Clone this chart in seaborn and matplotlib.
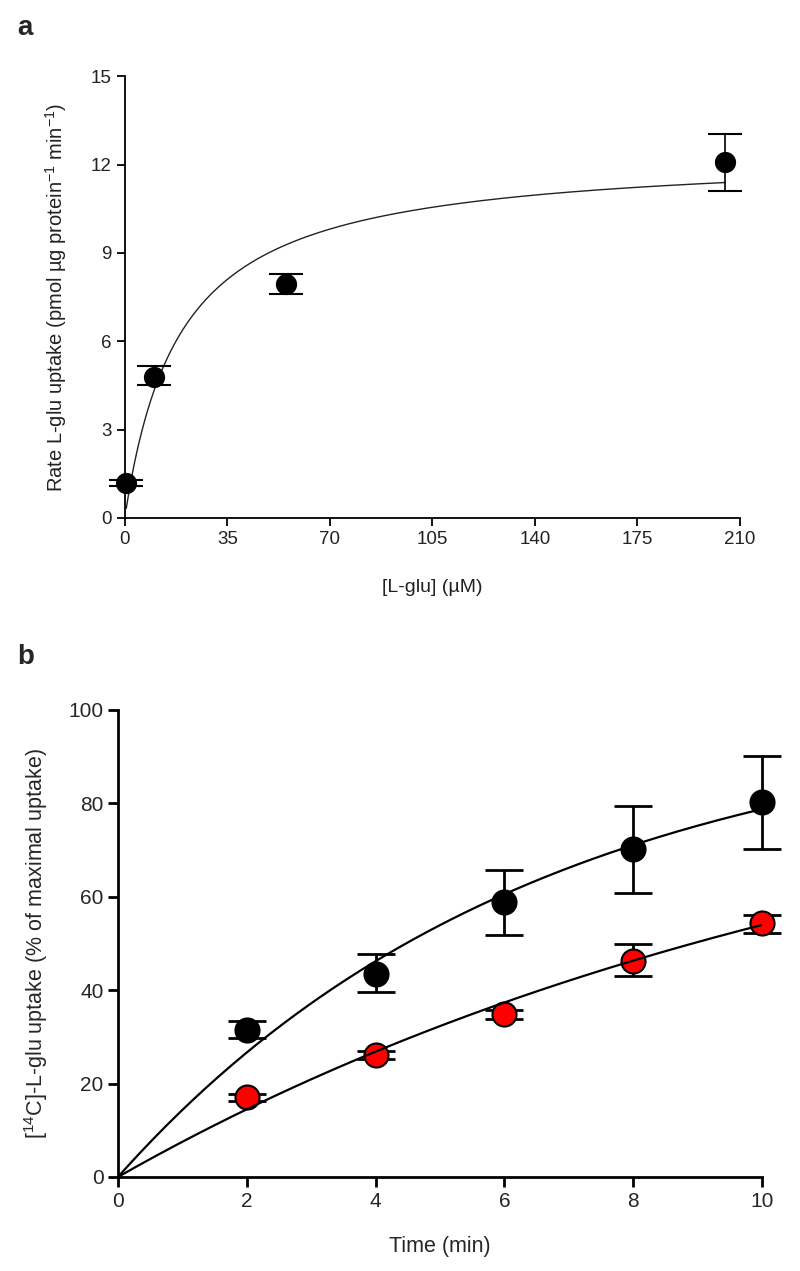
import numpy as np
import pandas as pd
import seaborn as sns
import matplotlib.pyplot as plt

# panel a: rate vs concentration
glu_conc = [0.5, 10, 55, 205]
glu_rate = [1.2, 4.8, 7.95, 12.1]
rate_lo = [1.1, 4.5, 7.6, 11.1]
rate_hi = [1.3, 5.15, 8.3, 13.05]
vmax, km = 12.43, 18.7  # Michaelis-Menten fit

# panel b: time course
time_min = [2, 4, 6, 8, 10]
ctrl_uptake = [31.5, 43.5, 58.8, 70.2, 80.2]
ctrl_lo = [29.7, 39.5, 51.8, 60.9, 70.2]
ctrl_hi = [33.4, 47.7, 65.8, 79.4, 90.1]
red_uptake = [17.1, 26.2, 34.8, 46.3, 54.3]
red_lo = [16.3, 25.2, 33.8, 43.0, 52.3]
red_hi = [17.8, 27.0, 35.8, 49.8, 56.2]
ctrl_fit = (100.0, 0.155)  # A, k for A*(1-exp(-k t))
red_fit = (98.0, 0.08)

sns.set_style('ticks')
plt.rcParams['font.family'] = ['Liberation Sans', 'DejaVu Sans']
plt.rcParams['mathtext.default'] = 'regular'


def unclip(container):
    for art in container.get_children():
        art.set_clip_on(False)


fig = plt.figure(figsize=(8, 12.71), dpi=100)

# ---- a ----
ax1 = fig.add_axes([0.156, 0.5925, 0.769, 0.3475])
xs = np.linspace(0.5, 205, 300)
fit_a = pd.DataFrame({'x': xs, 'y': vmax * xs / (km + xs)})
sns.lineplot(data=fit_a, x='x', y='y', ax=ax1, color='#222222', lw=1.0, zorder=2)
ya = np.array(glu_rate)
eb = ax1.errorbar(glu_conc, ya, yerr=[ya - np.array(rate_lo), np.array(rate_hi) - ya],
                  fmt='none', ecolor='black', elinewidth=1.2, capsize=12, capthick=1.5, zorder=3)
unclip(eb)
sns.scatterplot(x=glu_conc, y=glu_rate, ax=ax1, color='black', s=200, edgecolor='black',
                zorder=4, clip_on=False)
ax1.set_xlim(0, 210)
ax1.set_ylim(0, 15)
ax1.set_xticks([0, 35, 70, 105, 140, 175, 210])
ax1.set_yticks([0, 3, 6, 9, 12, 15])
ax1.tick_params(direction='out', length=6, width=1.3, color='black', labelcolor='#222222',
                labelsize=13.5)
ax1.set_xlabel('[L-glu] (\u00b5M)', fontsize=14, labelpad=22, color='#222222')
ax1.set_ylabel('Rate L-glu uptake (pmol \u00b5g protein$^{-1}$ min$^{-1}$)', fontsize=14.5,
               labelpad=16, color='#222222')
sns.despine(ax=ax1)
for s in ['left', 'bottom']:
    ax1.spines[s].set_linewidth(1.3)
    ax1.spines[s].set_color('black')
fig.text(0.022, 0.978, 'a', fontsize=20, fontweight='bold', va='center')

# ---- b ----
ax2 = fig.add_axes([0.1475, 0.074, 0.805, 0.3674])
ts = np.linspace(0, 10, 200)
fit_b = pd.DataFrame({
    't': np.concatenate([ts, ts]),
    'y': np.concatenate([ctrl_fit[0] * (1 - np.exp(-ctrl_fit[1] * ts)),
                         red_fit[0] * (1 - np.exp(-red_fit[1] * ts))]),
    'g': ['ctrl'] * len(ts) + ['red'] * len(ts),
})
for up, lo, hi, face in [(ctrl_uptake, ctrl_lo, ctrl_hi, 'black'),
                         (red_uptake, red_lo, red_hi, 'red')]:
    y = np.array(up)
    eb = ax2.errorbar(time_min, y, yerr=[y - np.array(lo), np.array(hi) - y], fmt='none',
                      ecolor='black', elinewidth=2, capsize=14, capthick=2, zorder=3)
    unclip(eb)
    sns.scatterplot(x=time_min, y=up, ax=ax2, color=face, s=300, edgecolor='black',
                    linewidth=1.5, zorder=4, clip_on=False)
sns.lineplot(data=fit_b, x='t', y='y', hue='g', palette=['black', 'black'], ax=ax2,
             lw=1.6, legend=False, zorder=5)
ax2.set_xlim(0, 10)
ax2.set_ylim(0, 100)
ax2.set_xticks([0, 2, 4, 6, 8, 10])
ax2.set_yticks([0, 20, 40, 60, 80, 100])
ax2.tick_params(direction='out', length=7, width=2, color='black', labelsize=15)
ax2.set_xlabel('Time (min)', fontsize=15.5, labelpad=18)
ax2.set_ylabel('[$^{14}$C]-L-glu uptake (% of maximal uptake)', fontsize=15.5, labelpad=13)
sns.despine(ax=ax2)
for s in ['left', 'bottom']:
    ax2.spines[s].set_linewidth(2)
    ax2.spines[s].set_color('black')
fig.text(0.022, 0.483, 'b', fontsize=20, fontweight='bold', va='center')

fig.savefig('out.png', dpi=100, facecolor='white')
